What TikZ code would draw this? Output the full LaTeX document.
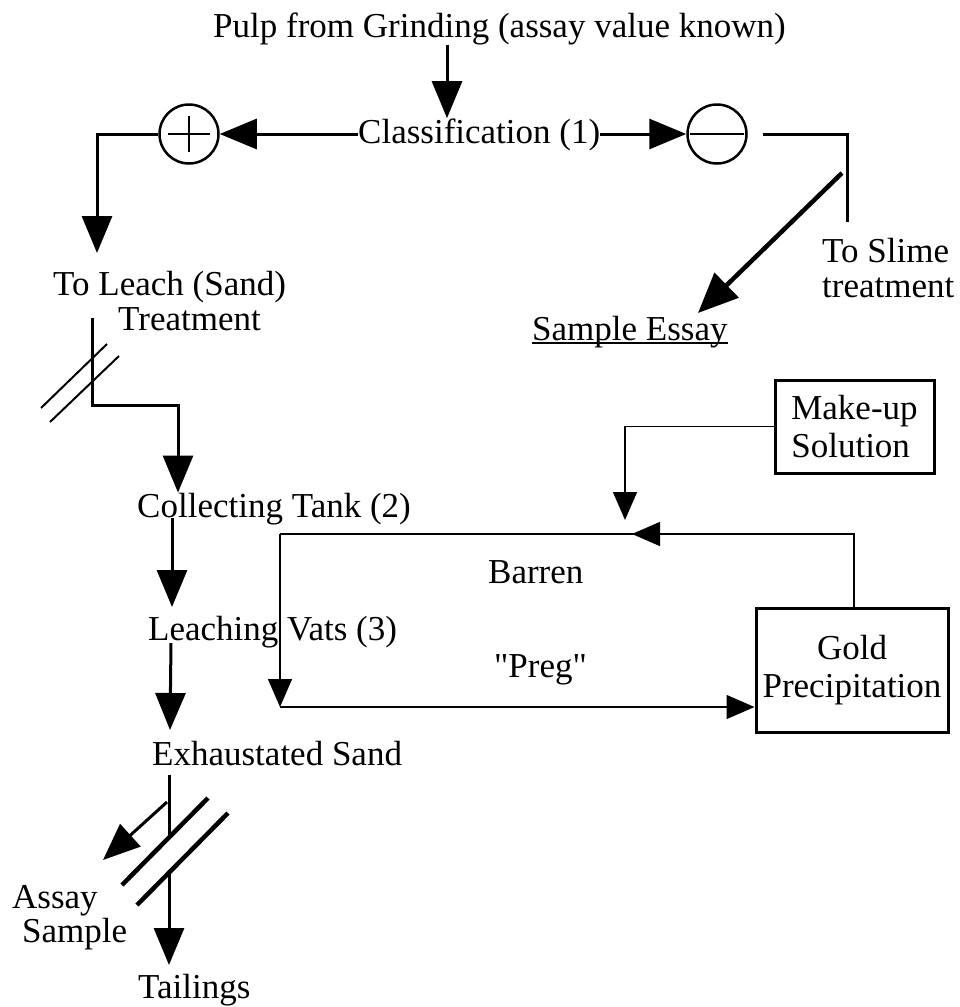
\documentclass[tikz,border=0pt]{standalone}
\usepackage{fontspec}
\setmainfont{Liberation Serif}
% same face without TeX ligatures, so that " stays a straight quote
\newfontfamily\plainquotes{Liberation Serif}
\usetikzlibrary{arrows.meta}

\tikzset{
  lbl/.style={inner sep=0pt, anchor=base west},
  flow/.style={line width=3pt, -{Triangle[length=37pt,width=30pt]}},
  flowline/.style={line width=3pt},
  heavy/.style={line width=4.5pt, -{Triangle[length=40pt,width=34pt]}},
  heavyline/.style={line width=4.5pt},
  loopline/.style={line width=1.4pt},
  looparr/.style={line width=1.4pt, -{Triangle[length=28pt,width=24pt]}},
  breakmark/.style={line width=2pt},
  signcirc/.style={circle, draw, line width=2.5pt, minimum size=59pt, inner sep=0pt},
  signbar/.style={line width=2.5pt},
  unitbox/.style={draw, line width=3pt, inner sep=0pt, font=\fontsize{35}{38}\selectfont}
}

\begin{document}
\begin{tikzpicture}[x=1pt, y=-1pt, font=\fontsize{35}{38}\selectfont]
\useasboundingbox (0,0) rectangle (959,1007);

% text labels
\node[lbl] (title)  at (213,37)  {Pulp from Grinding (assay value known)};
\node[lbl] (cls)    at (358,143) {Classification (1)};
\node[lbl] (leach)  at (53,295)  {To Leach (Sand)};
\node[lbl] (treat)  at (118,330) {Treatment};
\node[lbl] (slime)  at (822,262) {To Slime};
\node[lbl] (slime2) at (822,297) {treatment};
\node[lbl] (essay)  at (532,340) {Sample Essay};
\node[lbl] (coll)   at (137,517) {Collecting Tank (2)};
\node[lbl] (vats)   at (148,640) {Leaching Vats (3)};
\node[lbl] (exh)    at (152,765) {Exhaustated Sand};
\node[lbl] (assay)  at (12,908)  {Assay};
\node[lbl] (sample) at (22,942)  {Sample};
\node[lbl] (tail)   at (138,998) {Tailings};
\node[lbl] (barren) at (488,583) {Barren};
\node[lbl] (preg)   at (494,677) {\plainquotes "Preg"};

\draw[line width=1.5pt] ([yshift=-3pt]essay.base west) -- ([yshift=-3pt]essay.base east);

% plus / minus fractions of the classifier
\node[signcirc] (plus)  at (189,134) {};
\node[signcirc] (minus) at (717,134) {};
\draw[signbar] ([xshift=-21pt]plus.center) -- ([xshift=21pt]plus.center);
\draw[signbar] ([yshift=-18pt]plus.center) -- ([yshift=18pt]plus.center);
\draw[signbar] ([xshift=-27pt]minus.center) -- ([xshift=27pt]minus.center);

% process boxes
\node[unitbox, minimum width=159pt, minimum height=93pt, align=left] (makeup) at (854.5,426.5)
  {Make-up\\Solution};
\node[unitbox, minimum width=192pt, minimum height=124pt, align=center] (gold) at (852,670)
  {Gold\\Precipitation};

% joints and free ends of the connectors
\coordinate (feed)   at (447,0);
\coordinate (sandend) at (97,253);
\coordinate (slimec) at (847,222);
\coordinate (diagA)  at (842,173);
\coordinate (diagB)  at (698,313);
\coordinate (sandA)  at (92,318);
\coordinate (sandB)  at (178,405);
\coordinate (ctA)    at (172,518);
\coordinate (ctB)    at (172,607);
\coordinate (lvA)    at (171,643);
\coordinate (lvB)    at (170,730);
\coordinate (exA)    at (169,775);
\coordinate (exB)    at (169,837);
\coordinate (exC)    at (169,872);
\coordinate (exD)    at (169,965);
\coordinate (asA)    at (167,802);
\coordinate (asB)    at (103,860);
\coordinate (loopTR) at (854,534);
\coordinate (loopMid) at (632,534);
\coordinate (loopTL) at (280,534);
\coordinate (loopBL) at (280,707);
\coordinate (mkEnd)  at (625,520);

% classification
\draw[flow] (feed |- title.south) -- (feed |- cls.north);
\draw[flow] (cls.west |- plus) -- (plus.east);
\draw[flow] (cls.east |- minus) -- (minus.west);
\draw[flow] (plus.west) -| (sandend);
\draw[flowline] ([xshift=15pt]minus.east) -| (slimec);
\draw[heavy] (diagA) -- (diagB);

% sand leaching line
\draw[flow] (sandA) |- (sandB) -- (sandB |- coll.north);
\draw[breakmark] (41,408) -- (107,344);
\draw[breakmark] (50,422) -- (119,356);
\draw[flow] (ctA) -- (ctB);
\draw[flow] (lvA) -- (lvB);

% exhausted sand split
\draw[flowline] (exA) -- (exB);
\draw[flow] (exC) -- (exD);
\draw[flow] (asA) -- (asB);
\draw[heavyline] (122,885) -- (208,798);
\draw[heavyline] (137,905) -- (228,813);

% solution circuit
\draw[loopline] (gold.north -| loopTR) -- (loopTR) -- (loopTL);
\draw[looparr] (loopTR) -- (loopMid);
\draw[looparr] (loopTL) -- (loopBL);
\draw[looparr] (loopBL) -- (gold.west |- loopBL);
\draw[looparr] (makeup.west) -| (mkEnd);
\end{tikzpicture}
\end{document}
